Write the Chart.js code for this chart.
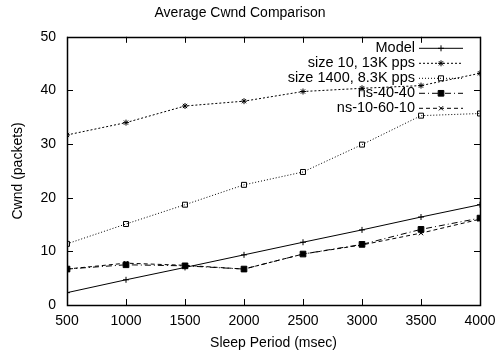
<!DOCTYPE html>
<html>
<head>
<meta charset="utf-8">
<script src="https://cdn.jsdelivr.net/npm/chart.js@4"></script>
<style>
  html, body { margin: 0; padding: 0; background: #fff; }
  #wrap { width: 498px; height: 354px; }
</style>
</head>
<body>
<div id="wrap"><canvas id="cwndChart"></canvas></div>
<script>
const sleepPeriods = [500, 1000, 1500, 2000, 2500, 3000, 3500, 4000];
const modelCwnd = [2.3, 4.7, 7.0, 9.35, 11.7, 14.0, 16.4, 18.7];
const size10Cwnd = [31.7, 34.0, 37.1, 38.0, 39.8, 40.4, 40.9, 43.2];
const size1400Cwnd = [11.4, 15.1, 18.7, 22.4, 24.8, 29.9, 35.3, 35.7];
const ns4040Cwnd = [6.7, 7.5, 7.3, 6.7, 9.5, 11.3, 14.1, 16.2];
const ns106010Cwnd = [6.7, 7.8, 7.4, 6.7, 9.5, 11.2, 13.4, 16.0];
const xTicks = [500, 1000, 1500, 2000, 2500, 3000, 3500, 4000];
const yTicks = [0, 10, 20, 30, 40, 50];

const FONT = "'Liberation Sans', Arial, Helvetica, sans-serif";

function toPoints(values) {
  return values.map((v, i) => ({ x: sleepPeriods[i], y: v }));
}

function makeSeries(label, values, style) {
  return {
    label,
    data: toPoints(values),
    borderColor: "#000",
    backgroundColor: style.fill ? "#000" : "#fff",
    borderWidth: 1,
    borderDash: style.dash,
    pointStyle: style.point,
    pointRadius: style.radius,
    pointBorderColor: "#000",
    pointBorderWidth: 1,
    pointBackgroundColor: style.fill ? "#000" : "rgba(0,0,0,0)",
    tension: 0,
    fill: false
  };
}

// gnuplot-like frame with inward ticks on all four sides
const framePlugin = {
  id: "frame",
  afterDatasetsDraw(chart) {
    const { ctx, chartArea: a, scales } = chart;
    ctx.save();
    ctx.strokeStyle = "#000";
    ctx.lineWidth = 1;
    ctx.setLineDash([]);
    ctx.beginPath();
    xTicks.forEach((t) => {
      const px = Math.round(scales.x.getPixelForValue(t)) + 0.5;
      ctx.moveTo(px, a.bottom);
      ctx.lineTo(px, a.bottom - 6);
      ctx.moveTo(px, a.top);
      ctx.lineTo(px, a.top + 6);
    });
    yTicks.forEach((t) => {
      const py = Math.round(scales.y.getPixelForValue(t)) + 0.5;
      ctx.moveTo(a.left, py);
      ctx.lineTo(a.left + 6, py);
      ctx.moveTo(a.right, py);
      ctx.lineTo(a.right - 6, py);
    });
    ctx.stroke();
    ctx.lineWidth = 1.5;
    ctx.strokeRect(Math.round(a.left) + 0.5, Math.round(a.top) + 0.5,
      Math.round(a.right - a.left), Math.round(a.bottom - a.top));
    ctx.restore();
  }
};

// legend drawn inside the plot, text right aligned then line sample
const keyPlugin = {
  id: "key",
  afterDatasetsDraw(chart) {
    const { ctx, chartArea: a } = chart;
    const textRight = a.right - 65;
    const lineStart = a.right - 61;
    const lineEnd = a.right - 17;
    ctx.save();
    ctx.font = `14.5px ${FONT}`;
    ctx.textAlign = "right";
    ctx.textBaseline = "middle";
    chart.data.datasets.forEach((ds, i) => {
      const y = a.top + 11 + i * 15;
      ctx.fillStyle = "#000";
      ctx.fillText(ds.label, textRight, y);
      ctx.strokeStyle = "#000";
      ctx.lineWidth = 1;
      ctx.setLineDash(ds.borderDash || []);
      ctx.beginPath();
      ctx.moveTo(lineStart, y + 0.5);
      ctx.lineTo(lineEnd, y + 0.5);
      ctx.stroke();
      ctx.setLineDash([]);
      ctx.fillStyle = ds.pointBackgroundColor;
      Chart.helpers.drawPoint(ctx, {
        pointStyle: ds.pointStyle,
        radius: ds.pointRadius,
        rotation: 0,
        borderWidth: 1
      }, (lineStart + lineEnd) / 2, y + 0.5);
    });
    ctx.restore();
  }
};

new Chart(document.getElementById("cwndChart"), {
  type: "line",
  data: {
    datasets: [
      makeSeries("Model", modelCwnd, { dash: [], point: "cross", radius: 3, fill: false }),
      makeSeries("size 10, 13K pps", size10Cwnd, { dash: [2, 2], point: "star", radius: 3, fill: false }),
      makeSeries("size 1400, 8.3K pps", size1400Cwnd, { dash: [1, 2], point: "rect", radius: 3.5, fill: false }),
      makeSeries("ns-40-40", ns4040Cwnd, { dash: [6, 3, 1, 3], point: "rect", radius: 4, fill: true }),
      makeSeries("ns-10-60-10", ns106010Cwnd, { dash: [4, 3], point: "crossRot", radius: 3, fill: false })
    ]
  },
  options: {
    responsive: true,
    maintainAspectRatio: false,
    animation: false,
    layout: { padding: { right: 18, left: 0, top: 0, bottom: 0 } },
    plugins: {
      legend: { display: false },
      tooltip: { enabled: false },
      title: {
        display: true,
        text: "Average Cwnd Comparison",
        color: "#000",
        font: { family: FONT, size: 14, weight: "normal" },
        padding: { top: 5, bottom: 15 }
      }
    },
    scales: {
      x: {
        type: "linear",
        min: 500,
        max: 4000,
        afterBuildTicks(scale) {
          scale.ticks = xTicks.map((v) => ({ value: v }));
        },
        afterFit(scale) {
          scale.height = 49;
        },
        grid: { display: false },
        border: { display: false },
        ticks: {
          color: "#000",
          padding: 0,
          maxRotation: 0,
          font: { family: FONT, size: 14 },
          callback: (v) => String(v)
        },
        title: {
          display: true,
          text: "Sleep Period (msec)",
          color: "#000",
          padding: { top: 0, bottom: 2 },
          font: { family: FONT, size: 14 }
        }
      },
      y: {
        type: "linear",
        min: 0,
        max: 50,
        afterBuildTicks(scale) {
          scale.ticks = yTicks.map((v) => ({ value: v }));
        },
        afterFit(scale) {
          scale.width = 67;
        },
        grid: { display: false },
        border: { display: false },
        ticks: {
          color: "#000",
          padding: 3,
          font: { family: FONT, size: 14 },
          callback: (v) => String(v)
        },
        title: {
          display: true,
          text: "Cwnd (packets)",
          color: "#000",
          padding: { top: 10, bottom: 0 },
          font: { family: FONT, size: 14 }
        }
      }
    }
  },
  plugins: [framePlugin, keyPlugin]
});
</script>
</body>
</html>
